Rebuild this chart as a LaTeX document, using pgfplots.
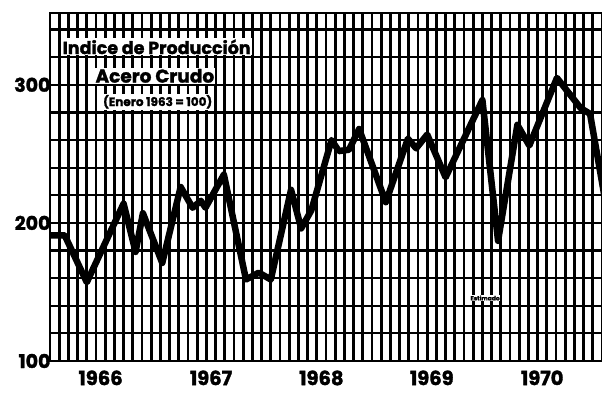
\documentclass[border=0pt]{standalone}
\usepackage{fontspec}
\setmainfont{Poppins}[BoldFeatures={FakeBold=1.6}]
\usepackage{pgfplots}
\pgfplotsset{compat=1.18}
\begin{document}
\begin{tikzpicture}[x=1pt,y=1pt]
\useasboundingbox (-50,-43) rectangle (552,361);
\begin{axis}[
  at={(0,0)}, anchor=south west,
  scale only axis, width=552pt, height=348pt,
  xmin=0, xmax=60, ymin=100, ymax=352,
  axis line style={line width=2.4pt, black},
  xtick={5.5,17.5,29.5,41.5,53.5},
  xticklabels={1966,1967,1968,1969,1970},
  ytick={100,200,300},
  minor xtick={1,2,...,59},
  minor ytick={120,140,...,340},
  xminorgrids=true, ymajorgrids=true, yminorgrids=true,
  minor x grid style={line width=2.7pt, black},
  major y grid style={line width=2.2pt, black},
  minor y grid style={line width=2.2pt, black},
  major tick length=0pt, minor tick length=0pt,
  /pgf/number format/assume math mode=true,
  xticklabel style={font=\fontsize{19.5}{20}\selectfont\bfseries, yshift=-6pt},
  yticklabel style={font=\fontsize{19}{20}\selectfont\bfseries, xshift=4pt},
  clip=true,
]
\addplot[black, line width=6.5pt, line join=round, line cap=round] coordinates {
(0,191) (1.6,191) (4.0,157) (8.0,214) (9.3,179) (10.1,207) (12.2,171)
(14.2,226) (15.5,211) (16.4,216) (16.9,211) (18.9,235) (21.3,159)
(22.7,164) (24.0,159) (26.2,224) (27.3,196) (28.4,209) (30.6,260)
(31.4,252) (32.5,253) (33.6,268) (36.5,215) (38.9,261) (39.8,254)
(41.0,264) (43.0,233) (47.0,289) (48.7,187) (50.8,271) (52.1,256)
(55.1,305) (57.7,283) (58.7,279) (60.3,218)
};
\node[fill=white, inner sep=1pt, font=\fontsize{17.5}{18}\selectfont\bfseries] at (axis cs:11.6,327.5) {Indice de Producción};
\node[fill=white, inner sep=1pt, font=\fontsize{18.5}{19}\selectfont\bfseries] at (axis cs:11.4,306.5) {Acero Crudo};
\node[fill=white, inner sep=1pt, font=\fontsize{12}{13}\selectfont\bfseries] at (axis cs:11.7,287.7) {(Enero 1963 = 100)};
\node[fill=white, inner sep=0.5pt, font=\fontsize{6}{7}\selectfont\bfseries] at (axis cs:47.3,145.6) {Estimado};
\end{axis}
\end{tikzpicture}
\end{document}
